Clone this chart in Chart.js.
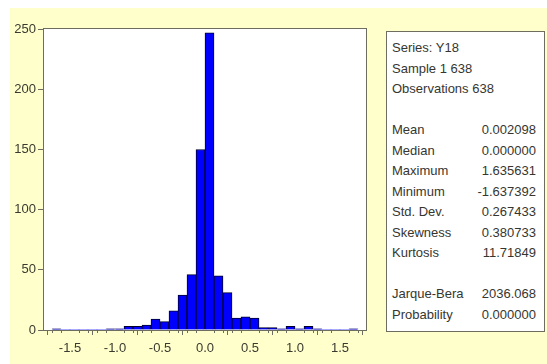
<!DOCTYPE html>
<html>
<head>
<meta charset="utf-8">
<script src="https://cdn.jsdelivr.net/npm/chart.js@4/dist/chart.umd.min.js"></script>
<style>
  html, body { margin: 0; padding: 0; background: #ffffff; }
  #wrap { position: relative; width: 547px; height: 364px; overflow: hidden; }
  #bg { position: absolute; left: 10px; top: 8px; right: 0; bottom: 0; background: #FFFFCC; }
  #chart { position: absolute; left: 0; top: 0; }
  #stats {
    position: absolute; left: 386px; top: 31px; width: 159px;
    box-sizing: border-box; border: 1px solid #6e6e60; background: #ffffff;
    font-family: "Liberation Sans Narrow", "Arial Narrow", "Liberation Sans", sans-serif;
    font-size: 13px; color: #363630; padding: 6px 8px 6px 5px;
  }
  #stats .row { display: flex; justify-content: space-between; height: 20.5px; line-height: 20.5px; white-space: nowrap; }
</style>
</head>
<body>
<div id="wrap">
  <div id="bg"></div>
  <canvas id="chart" width="547" height="364"></canvas>
  <div id="stats"></div>
</div>
<script>
// Histogram bins (left edge of each 0.1-wide bin) and their counts
const binStarts = [-1.7, -1.6, -1.5, -1.4, -1.3, -1.2, -1.1, -1.0, -0.9, -0.8, -0.7, -0.6, -0.5, -0.4, -0.3, -0.2, -0.1,
                   0.0, 0.1, 0.2, 0.3, 0.4, 0.5, 0.6, 0.7, 0.8, 0.9, 1.0, 1.1, 1.2, 1.3, 1.4, 1.5, 1.6];
const counts = [1, 0, 0, 0, 0, 0, 1, 1, 3, 3, 4, 9, 7, 16, 29, 46, 150,
                247, 45, 31, 10, 11, 10, 2, 2, 1, 3, 1, 3, 1, 0, 0, 0, 1];
const binWidth = 0.1;

// Axis tick values
const xTickValues = [-1.5, -1.0, -0.5, 0.0, 0.5, 1.0, 1.5];
const xTickLabels = ["-1.5", "-1.0", "-0.5", "0.0", "0.5", "1.0", "1.5"];
const yTickValues = [0, 50, 100, 150, 200, 250];

// Descriptive statistics panel
const headerLines = ["Series: Y18", "Sample 1 638", "Observations 638"];
const statNames = ["Mean", "Median", "Maximum", "Minimum", "Std. Dev.", "Skewness", "Kurtosis"];
const statValues = ["0.002098", "0.000000", "1.635631", "-1.637392", "0.267433", "0.380733", "11.71849"];
const testNames = ["Jarque-Bera", "Probability"];
const testValues = ["2036.068", "0.000000"];

// Build the statistics box
const stats = document.getElementById('stats');
function addRow(left, right) {
  const r = document.createElement('div');
  r.className = 'row';
  const a = document.createElement('span'); a.textContent = left;
  const b = document.createElement('span'); b.textContent = right || '';
  r.appendChild(a); r.appendChild(b);
  stats.appendChild(r);
}
headerLines.forEach(h => addRow(h, ''));
addRow('\u00a0', '');
statNames.forEach((n, i) => addRow(n, statValues[i]));
addRow('\u00a0', '');
testNames.forEach((n, i) => addRow(n, testValues[i]));

const fontFamily = '"Liberation Sans Narrow", "Arial Narrow", "Liberation Sans", sans-serif';
const frameColor = '#6e6e60';
const textColor = '#3a3a30';

// White plot area, frame and minor x ticks
const framePlugin = {
  id: 'frame',
  beforeDraw(chart) {
    const { ctx, chartArea: a } = chart;
    ctx.save();
    ctx.fillStyle = '#ffffff';
    ctx.fillRect(a.left, a.top, a.right - a.left, a.bottom - a.top);
    ctx.restore();
  },
  afterDraw(chart) {
    const { ctx, chartArea: a } = chart;
    const xs = chart.scales.x;
    ctx.save();
    ctx.strokeStyle = frameColor;
    ctx.lineWidth = 1;
    ctx.strokeRect(a.left + 0.5, a.top + 0.5, a.right - a.left - 1, a.bottom - a.top);
    // minor ticks at every bin edge
    for (let i = -17; i <= 17; i++) {
      if (i % 5 === 0) continue;
      const px = Math.round(xs.getPixelForValue(i / 10)) + 0.5;
      ctx.beginPath();
      ctx.moveTo(px, a.bottom);
      ctx.lineTo(px, a.bottom + 3);
      ctx.stroke();
    }
    ctx.restore();
  }
};

new Chart(document.getElementById('chart'), {
  type: 'bar',
  data: {
    datasets: [{
      data: binStarts.map((s, i) => ({ x: s + binWidth / 2, y: counts[i] })),
      backgroundColor: '#0000ff',
      borderColor: '#00002a',
      borderWidth: c => (c.raw && c.raw.y > 0 ? 1 : 0),
      barPercentage: 1,
      categoryPercentage: 1
    }]
  },
  options: {
    responsive: false,
    animation: false,
    layout: { padding: { left: 10, top: 28, right: 180, bottom: 0 } },
    plugins: { legend: { display: false }, tooltip: { enabled: false } },
    scales: {
      x: {
        type: 'linear',
        min: -1.8,
        max: 1.8,
        offset: false,
        afterBuildTicks: s => { s.ticks = xTickValues.map(v => ({ value: v })); },
        afterFit: s => { s.height = 34; },
        ticks: {
          autoSkip: false,
          maxRotation: 0,
          padding: 6,
          color: textColor,
          font: { family: fontFamily, size: 13 },
          callback: (v) => {
            const i = xTickValues.findIndex(t => Math.abs(t - v) < 1e-9);
            return i >= 0 ? xTickLabels[i] : '';
          }
        },
        grid: { display: true, drawOnChartArea: false, drawTicks: true, tickLength: 5, color: frameColor },
        border: { display: false }
      },
      y: {
        min: 0,
        max: 251,
        afterBuildTicks: s => { s.ticks = yTickValues.map(v => ({ value: v })); },
        afterFit: s => { s.width = 33; },
        ticks: {
          padding: 2,
          color: textColor,
          font: { family: fontFamily, size: 13 }
        },
        grid: { display: true, drawOnChartArea: false, drawTicks: true, tickLength: 5, color: frameColor },
        border: { display: false }
      }
    }
  },
  plugins: [framePlugin]
});
</script>
</body>
</html>
